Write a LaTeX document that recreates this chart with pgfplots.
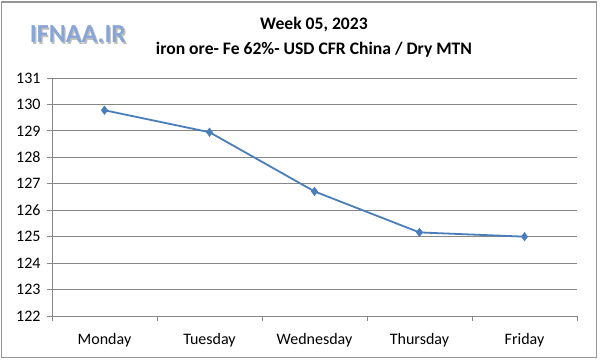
\documentclass[border=0pt]{standalone}
\usepackage{pgfplots}
\pgfplotsset{compat=1.18}
\usepackage{fontspec}
\setmainfont{Carlito}
\definecolor{serieblue}{RGB}{74,126,187}
\definecolor{gridgray}{RGB}{134,134,134}
\definecolor{framegray}{RGB}{150,150,150}
\definecolor{logoblue}{RGB}{135,165,215}
\begin{document}
\begin{tikzpicture}
\useasboundingbox (0pt,0pt) rectangle (600pt,361pt);
\fill[white] (0pt,0pt) rectangle (600pt,361pt);
\draw[framegray,line width=1.5pt] (1.5pt,3.5pt) rectangle (596.5pt,359pt);
% logo
\node[text=gray!50,font=\fontsize{26}{28}\selectfont\bfseries] at (79.4pt,325pt) {IFNAA.IR};
\node[text=logoblue,font=\fontsize{26}{28}\selectfont\bfseries] at (78pt,326.5pt) {IFNAA.IR};
% title
\node[font=\fontsize{17.6}{20}\selectfont\bfseries] at (314pt,336pt) {Week 05, 2023};
\node[font=\fontsize{17.6}{20}\selectfont\bfseries] at (314pt,311pt) {iron ore- Fe 62\%- USD CFR China / Dry MTN};
\begin{axis}[
  at={(52pt,283pt)}, anchor=north west,
  scale only axis, width=525pt, height=238pt,
  xmin=-0.5, xmax=4.5, ymin=122, ymax=131,
  axis x line*=bottom, axis y line*=left,
  axis line style={gridgray,line width=0.8pt,-},
  xtick={0,1,2,3,4},
  xticklabels={Monday,Tuesday,Wednesday,Thursday,Friday},
  minor xtick={-0.5,0.5,1.5,2.5,3.5,4.5},
  ytick={122,...,131},
  ymajorgrids, major grid style={gridgray,line width=0.8pt},
  tick align=outside,
  major tick length=5pt,
  x tick style={draw=none},
  minor x tick style={draw=gridgray,line width=0.8pt},
  minor tick length=5pt,
  y tick style={gridgray,line width=0.8pt},
  /pgf/number format/assume math mode=true,
  /pgf/number format/1000 sep={},
  tick label style={font=\fontsize{16}{18}\selectfont},
  yticklabel style={xshift=-3pt},
  xticklabel style={yshift=-9pt},
  clip=false,
]
\addplot[color=serieblue, line width=1.8pt, mark=diamond*, mark size=3.2pt, mark options={fill=serieblue}]
coordinates {(0,129.78) (1,128.95) (2,126.71) (3,125.16) (4,125.0)};
\end{axis}
\end{tikzpicture}
\end{document}
